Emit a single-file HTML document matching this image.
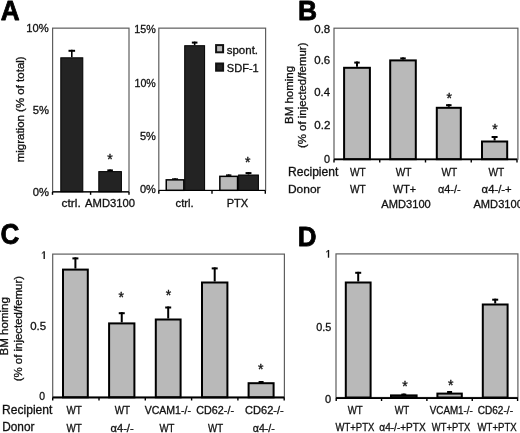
<!DOCTYPE html>
<html><head><meta charset="utf-8"><style>
html,body{margin:0;padding:0;background:#fff;}
svg{display:block;font-family:"Liberation Sans", sans-serif;filter:blur(0.35px);}
</style></head><body>
<svg width="520" height="433" viewBox="0 0 520 433">
<rect width="520" height="433" fill="#fff"/>
<text x="0.65" y="19.7" font-size="28.14" font-weight="bold" fill="#000" stroke="#000" stroke-width="0.8" stroke-linejoin="round" textLength="18.86" lengthAdjust="spacingAndGlyphs">A</text>
<rect x="52.6" y="28.15" width="76.4" height="163.55" fill="none" stroke="#5e5e5e" stroke-width="1.2"/>
<rect x="158.8" y="28.15" width="106.8" height="162.15" fill="none" stroke="#5e5e5e" stroke-width="1.2"/>
<line x1="71.8" y1="57.3" x2="71.8" y2="49.8" stroke="#000" stroke-width="1.6"/>
<line x1="68.5" y1="50.8" x2="75.1" y2="50.8" stroke="#000" stroke-width="2"/>
<rect x="60.8" y="57.8" width="22" height="133.9" fill="#232323" stroke="#000" stroke-width="1"/>
<line x1="110.1" y1="171.1" x2="110.1" y2="169.4" stroke="#000" stroke-width="1.6"/>
<line x1="107.3" y1="170.4" x2="112.9" y2="170.4" stroke="#000" stroke-width="2"/>
<rect x="98.8" y="171.6" width="22.6" height="20.1" fill="#232323" stroke="#000" stroke-width="1"/>
<text x="107.27" y="164.21" font-size="14" fill="#111" stroke="#111" stroke-width="0.35">*</text>
<line x1="52.5" y1="191.9" x2="129" y2="191.9" stroke="#000" stroke-width="1.2"/>
<line x1="52.5" y1="191.9" x2="52.5" y2="194.8" stroke="#000" stroke-width="1.4"/>
<line x1="90.6" y1="191.9" x2="90.6" y2="194.8" stroke="#000" stroke-width="1.4"/>
<line x1="129" y1="191.9" x2="129" y2="194.8" stroke="#000" stroke-width="1.4"/>
<line x1="175.05" y1="179.1" x2="175.05" y2="178.3" stroke="#000" stroke-width="1.5"/>
<line x1="172.05" y1="179.05" x2="178.05" y2="179.05" stroke="#000" stroke-width="1.5"/>
<rect x="166.25" y="179.85" width="17.6" height="10.45" fill="#b9b9b9" stroke="#000" stroke-width="1.5"/>
<line x1="194.65" y1="45.2" x2="194.65" y2="41.6" stroke="#000" stroke-width="1.6"/>
<line x1="191.85" y1="42.6" x2="197.45" y2="42.6" stroke="#000" stroke-width="2"/>
<rect x="184.7" y="45.7" width="19.9" height="144.6" fill="#232323" stroke="#000" stroke-width="1"/>
<line x1="228.7" y1="175.6" x2="228.7" y2="174.4" stroke="#000" stroke-width="1.5"/>
<line x1="226" y1="175.15" x2="231.4" y2="175.15" stroke="#000" stroke-width="1.5"/>
<rect x="219.85" y="176.35" width="17.7" height="13.95" fill="#b9b9b9" stroke="#000" stroke-width="1.5"/>
<line x1="248.5" y1="174.5" x2="248.5" y2="172.1" stroke="#000" stroke-width="1.6"/>
<line x1="245.55" y1="173.1" x2="251.45" y2="173.1" stroke="#000" stroke-width="2"/>
<rect x="238.6" y="175" width="19.8" height="15.3" fill="#232323" stroke="#000" stroke-width="1"/>
<text x="245.07" y="167.01" font-size="14" fill="#111" stroke="#111" stroke-width="0.35">*</text>
<line x1="158.8" y1="190.5" x2="265.3" y2="190.5" stroke="#000" stroke-width="1.2"/>
<line x1="158.8" y1="190.5" x2="158.8" y2="193.8" stroke="#000" stroke-width="1.4"/>
<line x1="212" y1="190.5" x2="212" y2="193.8" stroke="#000" stroke-width="1.4"/>
<line x1="265.3" y1="190.5" x2="265.3" y2="193.8" stroke="#000" stroke-width="1.4"/>
<rect x="216.1" y="45.1" width="7" height="7.2" fill="#b9b9b9" stroke="#111" stroke-width="2"/>
<rect x="216.1" y="63.5" width="7" height="7.2" fill="#232323" stroke="#111" stroke-width="2"/>
<text x="226.71" y="53.5" font-size="11" fill="#111" stroke="#111" stroke-width="0.3" textLength="31.33" lengthAdjust="spacingAndGlyphs">spont.</text>
<text x="226.85" y="71.7" font-size="11" fill="#111" stroke="#111" stroke-width="0.3" textLength="31.89" lengthAdjust="spacingAndGlyphs">SDF-1</text>
<text x="26.31" y="32.3" font-size="11" fill="#111" stroke="#111" stroke-width="0.3" textLength="22.45" lengthAdjust="spacingAndGlyphs">10%</text>
<text x="32.7" y="113.9" font-size="11" fill="#111" stroke="#111" stroke-width="0.3" textLength="16.25" lengthAdjust="spacingAndGlyphs">5%</text>
<text x="32.7" y="196.2" font-size="11" fill="#111" stroke="#111" stroke-width="0.3" textLength="16.25" lengthAdjust="spacingAndGlyphs">0%</text>
<text x="134.34" y="32.6" font-size="11" fill="#111" stroke="#111" stroke-width="0.3" textLength="21.5" lengthAdjust="spacingAndGlyphs">15%</text>
<text x="134.55" y="87.2" font-size="11" fill="#111" stroke="#111" stroke-width="0.3" textLength="21.29" lengthAdjust="spacingAndGlyphs">10%</text>
<text x="139.91" y="140" font-size="11" fill="#111" stroke="#111" stroke-width="0.3" textLength="15.93" lengthAdjust="spacingAndGlyphs">5%</text>
<text x="139.91" y="193.2" font-size="11" fill="#111" stroke="#111" stroke-width="0.3" textLength="15.93" lengthAdjust="spacingAndGlyphs">0%</text>
<text x="61.57" y="207" font-size="11" fill="#111" stroke="#111" stroke-width="0.3" textLength="19.16" lengthAdjust="spacingAndGlyphs">ctrl.</text>
<text x="85.05" y="207" font-size="11" fill="#111" stroke="#111" stroke-width="0.3" textLength="50.02" lengthAdjust="spacingAndGlyphs">AMD3100</text>
<text x="175.5" y="207" font-size="11" fill="#111" stroke="#111" stroke-width="0.3" textLength="18.18" lengthAdjust="spacingAndGlyphs">ctrl.</text>
<text x="226.66" y="207" font-size="11" fill="#111" stroke="#111" stroke-width="0.3" textLength="21.61" lengthAdjust="spacingAndGlyphs">PTX</text>
<text transform="translate(24,162.3) rotate(-90)" x="0" y="0" font-size="11" fill="#111" stroke="#111" stroke-width="0.3" textLength="105.94" lengthAdjust="spacingAndGlyphs">migration (% of total)</text>
<text x="298.08" y="20" font-size="27.64" font-weight="bold" fill="#000" stroke="#000" stroke-width="0.8" stroke-linejoin="round" textLength="19.06" lengthAdjust="spacingAndGlyphs">B</text>
<rect x="334" y="28.2" width="183.9" height="131" fill="none" stroke="#5e5e5e" stroke-width="1.2"/>
<line x1="357" y1="66.8" x2="357" y2="61.6" stroke="#000" stroke-width="2"/>
<line x1="354.25" y1="62.6" x2="359.75" y2="62.6" stroke="#000" stroke-width="2"/>
<rect x="344.1" y="67.8" width="25.8" height="91.4" fill="#b9b9b9" stroke="#000" stroke-width="2"/>
<line x1="403" y1="59.4" x2="403" y2="57.4" stroke="#000" stroke-width="2"/>
<line x1="400.25" y1="58.4" x2="405.75" y2="58.4" stroke="#000" stroke-width="2"/>
<rect x="390.2" y="60.4" width="25.6" height="98.8" fill="#b9b9b9" stroke="#000" stroke-width="2"/>
<line x1="448.8" y1="106.8" x2="448.8" y2="104.2" stroke="#000" stroke-width="2"/>
<line x1="446.05" y1="105.2" x2="451.55" y2="105.2" stroke="#000" stroke-width="2"/>
<rect x="436.8" y="107.8" width="24" height="51.4" fill="#b9b9b9" stroke="#000" stroke-width="2"/>
<line x1="494.6" y1="140.5" x2="494.6" y2="136" stroke="#000" stroke-width="2"/>
<line x1="491.6" y1="137" x2="497.6" y2="137" stroke="#000" stroke-width="2"/>
<rect x="482" y="141.5" width="25.2" height="17.7" fill="#b9b9b9" stroke="#000" stroke-width="2"/>
<text x="446.47" y="102.51" font-size="14" fill="#111" stroke="#111" stroke-width="0.35">*</text>
<text x="492.37" y="134.41" font-size="14" fill="#111" stroke="#111" stroke-width="0.35">*</text>
<line x1="334" y1="159.4" x2="517" y2="159.4" stroke="#000" stroke-width="1.8"/>
<line x1="334" y1="159.4" x2="334" y2="162.5" stroke="#000" stroke-width="1.4"/>
<line x1="379.75" y1="159.4" x2="379.75" y2="162.5" stroke="#000" stroke-width="1.4"/>
<line x1="425.5" y1="159.4" x2="425.5" y2="162.5" stroke="#000" stroke-width="1.4"/>
<line x1="471.25" y1="159.4" x2="471.25" y2="162.5" stroke="#000" stroke-width="1.4"/>
<line x1="517" y1="159.4" x2="517" y2="162.5" stroke="#000" stroke-width="1.4"/>
<text x="314.29" y="33.2" font-size="11" fill="#111" stroke="#111" stroke-width="0.3" textLength="15.92" lengthAdjust="spacingAndGlyphs">0.8</text>
<text x="314.29" y="63.6" font-size="11" fill="#111" stroke="#111" stroke-width="0.3" textLength="15.92" lengthAdjust="spacingAndGlyphs">0.6</text>
<text x="314.3" y="95.5" font-size="11" fill="#111" stroke="#111" stroke-width="0.3" textLength="15.8" lengthAdjust="spacingAndGlyphs">0.4</text>
<text x="314.29" y="128.5" font-size="11" fill="#111" stroke="#111" stroke-width="0.3" textLength="16.04" lengthAdjust="spacingAndGlyphs">0.2</text>
<text x="323.92" y="163" font-size="11" fill="#111" stroke="#111" stroke-width="0.3" textLength="6.03" lengthAdjust="spacingAndGlyphs">0</text>
<text transform="translate(292.5,123.97) rotate(-90)" x="0" y="0" font-size="11" fill="#111" stroke="#111" stroke-width="0.3" textLength="58.1" lengthAdjust="spacingAndGlyphs">BM homing</text>
<text transform="translate(306.2,148.04) rotate(-90)" x="0" y="0" font-size="11" fill="#111" stroke="#111" stroke-width="0.3" textLength="105.48" lengthAdjust="spacingAndGlyphs">(% of injected/femur)</text>
<text x="287.98" y="175.5" font-size="12" fill="#111" stroke="#111" stroke-width="0.3" textLength="50.38" lengthAdjust="spacingAndGlyphs">Recipient</text>
<text x="287.99" y="192.7" font-size="11.5" fill="#111" stroke="#111" stroke-width="0.3" textLength="32.58" lengthAdjust="spacingAndGlyphs">Donor</text>
<text x="349.9" y="175.7" font-size="11.8" fill="#111" stroke="#111" stroke-width="0.3" textLength="15.75" lengthAdjust="spacingAndGlyphs">WT</text>
<text x="395.7" y="175.7" font-size="11.8" fill="#111" stroke="#111" stroke-width="0.3" textLength="15.75" lengthAdjust="spacingAndGlyphs">WT</text>
<text x="441.5" y="175.7" font-size="11.8" fill="#111" stroke="#111" stroke-width="0.3" textLength="15.75" lengthAdjust="spacingAndGlyphs">WT</text>
<text x="488.5" y="175.7" font-size="11.8" fill="#111" stroke="#111" stroke-width="0.3" textLength="15.75" lengthAdjust="spacingAndGlyphs">WT</text>
<text x="349.9" y="193.2" font-size="11" fill="#111" stroke="#111" stroke-width="0.3" textLength="15.75" lengthAdjust="spacingAndGlyphs">WT</text>
<text x="393.1" y="193.2" font-size="11" fill="#111" stroke="#111" stroke-width="0.3" textLength="22.98" lengthAdjust="spacingAndGlyphs">WT+</text>
<text x="438.01" y="193.2" font-size="11" fill="#111" stroke="#111" stroke-width="0.3" textLength="22.61" lengthAdjust="spacingAndGlyphs">α4-/-</text>
<text x="481.6" y="193.2" font-size="11" fill="#111" stroke="#111" stroke-width="0.3" textLength="30.09" lengthAdjust="spacingAndGlyphs">α4-/-+</text>
<text x="381.35" y="208" font-size="11" fill="#111" stroke="#111" stroke-width="0.3" textLength="49.41" lengthAdjust="spacingAndGlyphs">AMD3100</text>
<text x="473.45" y="208" font-size="11" fill="#111" stroke="#111" stroke-width="0.3" textLength="49.41" lengthAdjust="spacingAndGlyphs">AMD3100</text>
<text x="0.56" y="244.2" font-size="28.64" font-weight="bold" fill="#000" stroke="#000" stroke-width="0.8" stroke-linejoin="round" textLength="18.85" lengthAdjust="spacingAndGlyphs">C</text>
<rect x="52.7" y="254.1" width="231.7" height="143.2" fill="none" stroke="#5e5e5e" stroke-width="1.2"/>
<line x1="75.4" y1="268.6" x2="75.4" y2="257.4" stroke="#000" stroke-width="2"/>
<line x1="72.4" y1="258.4" x2="78.4" y2="258.4" stroke="#000" stroke-width="2"/>
<rect x="63" y="269.6" width="24.8" height="127.7" fill="#b9b9b9" stroke="#000" stroke-width="2"/>
<line x1="121.75" y1="322.4" x2="121.75" y2="312.2" stroke="#000" stroke-width="2"/>
<line x1="118.75" y1="313.2" x2="124.75" y2="313.2" stroke="#000" stroke-width="2"/>
<rect x="109.1" y="323.4" width="25.3" height="73.9" fill="#b9b9b9" stroke="#000" stroke-width="2"/>
<line x1="168.2" y1="318.5" x2="168.2" y2="306.5" stroke="#000" stroke-width="2"/>
<line x1="165.2" y1="307.5" x2="171.2" y2="307.5" stroke="#000" stroke-width="2"/>
<rect x="155.8" y="319.5" width="24.8" height="77.8" fill="#b9b9b9" stroke="#000" stroke-width="2"/>
<line x1="214.7" y1="281.5" x2="214.7" y2="267.4" stroke="#000" stroke-width="2"/>
<line x1="211.7" y1="268.4" x2="217.7" y2="268.4" stroke="#000" stroke-width="2"/>
<rect x="202" y="282.5" width="25.4" height="114.8" fill="#b9b9b9" stroke="#000" stroke-width="2"/>
<line x1="261.1" y1="382.2" x2="261.1" y2="381" stroke="#000" stroke-width="2"/>
<line x1="258.6" y1="382" x2="263.6" y2="382" stroke="#000" stroke-width="2"/>
<rect x="248.6" y="383.2" width="25" height="14.1" fill="#b9b9b9" stroke="#000" stroke-width="2"/>
<text x="118.47" y="301.71" font-size="14" fill="#111" stroke="#111" stroke-width="0.35">*</text>
<text x="165.67" y="299.81" font-size="14" fill="#111" stroke="#111" stroke-width="0.35">*</text>
<text x="258.07" y="374.41" font-size="14" fill="#111" stroke="#111" stroke-width="0.35">*</text>
<line x1="52.7" y1="397.5" x2="284.2" y2="397.5" stroke="#000" stroke-width="1.8"/>
<line x1="52.7" y1="397.5" x2="52.7" y2="400.5" stroke="#000" stroke-width="1.4"/>
<line x1="99" y1="397.5" x2="99" y2="400.5" stroke="#000" stroke-width="1.4"/>
<line x1="145.3" y1="397.5" x2="145.3" y2="400.5" stroke="#000" stroke-width="1.4"/>
<line x1="191.6" y1="397.5" x2="191.6" y2="400.5" stroke="#000" stroke-width="1.4"/>
<line x1="237.9" y1="397.5" x2="237.9" y2="400.5" stroke="#000" stroke-width="1.4"/>
<line x1="284.2" y1="397.5" x2="284.2" y2="400.5" stroke="#000" stroke-width="1.4"/>
<path d="M41.8,253.5 L43.9,251.9" stroke="#111" stroke-width="1.0" fill="none"/>
<path d="M44.2,251.3 L44.2,259" stroke="#111" stroke-width="1.35" fill="none"/>
<text x="30.19" y="330" font-size="11" fill="#111" stroke="#111" stroke-width="0.3" textLength="15.92" lengthAdjust="spacingAndGlyphs">0.5</text>
<text x="39.33" y="399.6" font-size="11" fill="#111" stroke="#111" stroke-width="0.3" textLength="5.79" lengthAdjust="spacingAndGlyphs">0</text>
<text transform="translate(8.2,355.47) rotate(-90)" x="0" y="0" font-size="11" fill="#111" stroke="#111" stroke-width="0.3" textLength="58.41" lengthAdjust="spacingAndGlyphs">BM homing</text>
<text transform="translate(22.4,381.34) rotate(-90)" x="0" y="0" font-size="11" fill="#111" stroke="#111" stroke-width="0.3" textLength="105.38" lengthAdjust="spacingAndGlyphs">(% of injected/femur)</text>
<text x="2.09" y="413.6" font-size="12.2" fill="#111" stroke="#111" stroke-width="0.3" textLength="50.27" lengthAdjust="spacingAndGlyphs">Recipient</text>
<text x="2.2" y="431.3" font-size="12" fill="#111" stroke="#111" stroke-width="0.3" textLength="32.27" lengthAdjust="spacingAndGlyphs">Donor</text>
<text x="66.4" y="414" font-size="10.5" fill="#111" stroke="#111" stroke-width="0.3" textLength="15.34" lengthAdjust="spacingAndGlyphs">WT</text>
<text x="114.8" y="414" font-size="10.5" fill="#111" stroke="#111" stroke-width="0.3" textLength="15.34" lengthAdjust="spacingAndGlyphs">WT</text>
<text x="144.7" y="414" font-size="10.5" fill="#111" stroke="#111" stroke-width="0.3" textLength="46.22" lengthAdjust="spacingAndGlyphs">VCAM1-/-</text>
<text x="196.31" y="414" font-size="10.5" fill="#111" stroke="#111" stroke-width="0.3" textLength="37.68" lengthAdjust="spacingAndGlyphs">CD62-/-</text>
<text x="245.1" y="414" font-size="10.5" fill="#111" stroke="#111" stroke-width="0.3" textLength="38.7" lengthAdjust="spacingAndGlyphs">CD62-/-</text>
<text x="66.4" y="432" font-size="10.5" fill="#111" stroke="#111" stroke-width="0.3" textLength="15.34" lengthAdjust="spacingAndGlyphs">WT</text>
<text x="110.55" y="432" font-size="10.5" fill="#111" stroke="#111" stroke-width="0.3" textLength="23.13" lengthAdjust="spacingAndGlyphs">α4-/-</text>
<text x="159.4" y="432" font-size="10.5" fill="#111" stroke="#111" stroke-width="0.3" textLength="14.94" lengthAdjust="spacingAndGlyphs">WT</text>
<text x="208.05" y="432" font-size="10.5" fill="#111" stroke="#111" stroke-width="0.3" textLength="15.04" lengthAdjust="spacingAndGlyphs">WT</text>
<text x="252.77" y="432" font-size="10.5" fill="#111" stroke="#111" stroke-width="0.3" textLength="22.08" lengthAdjust="spacingAndGlyphs">α4-/-</text>
<text x="297.71" y="245.6" font-size="28.14" font-weight="bold" fill="#000" stroke="#000" stroke-width="0.8" stroke-linejoin="round" textLength="18.79" lengthAdjust="spacingAndGlyphs">D</text>
<rect x="336" y="253.9" width="181.9" height="143.6" fill="none" stroke="#5e5e5e" stroke-width="1.2"/>
<line x1="358.2" y1="281.5" x2="358.2" y2="271.8" stroke="#000" stroke-width="2"/>
<line x1="355.2" y1="272.8" x2="361.2" y2="272.8" stroke="#000" stroke-width="2"/>
<rect x="345.8" y="282.5" width="24.8" height="115" fill="#b9b9b9" stroke="#000" stroke-width="2"/>
<line x1="403.8" y1="394.4" x2="403.8" y2="393.6" stroke="#000" stroke-width="2"/>
<line x1="401.3" y1="394.6" x2="406.3" y2="394.6" stroke="#000" stroke-width="2"/>
<rect x="391" y="395.4" width="25.6" height="2.1" fill="#b9b9b9" stroke="#000" stroke-width="2"/>
<line x1="449.6" y1="392.6" x2="449.6" y2="391" stroke="#000" stroke-width="2"/>
<line x1="447.1" y1="392" x2="452.1" y2="392" stroke="#000" stroke-width="2"/>
<rect x="437.4" y="393.6" width="24.4" height="3.9" fill="#b9b9b9" stroke="#000" stroke-width="2"/>
<line x1="495.2" y1="303.5" x2="495.2" y2="298.7" stroke="#000" stroke-width="2"/>
<line x1="492.2" y1="299.7" x2="498.2" y2="299.7" stroke="#000" stroke-width="2"/>
<rect x="482.8" y="304.5" width="24.8" height="93" fill="#b9b9b9" stroke="#000" stroke-width="2"/>
<text x="402.17" y="391.21" font-size="14" fill="#111" stroke="#111" stroke-width="0.35">*</text>
<text x="448.07" y="389.91" font-size="14" fill="#111" stroke="#111" stroke-width="0.35">*</text>
<line x1="336" y1="398.1" x2="517.9" y2="398.1" stroke="#000" stroke-width="1.6"/>
<line x1="336.2" y1="398.1" x2="336.2" y2="401" stroke="#000" stroke-width="1.4"/>
<line x1="381.55" y1="398.1" x2="381.55" y2="401" stroke="#000" stroke-width="1.4"/>
<line x1="426.9" y1="398.1" x2="426.9" y2="401" stroke="#000" stroke-width="1.4"/>
<line x1="472.25" y1="398.1" x2="472.25" y2="401" stroke="#000" stroke-width="1.4"/>
<line x1="517.6" y1="398.1" x2="517.6" y2="401" stroke="#000" stroke-width="1.4"/>
<path d="M326.1,252.2 L328.2,250.6" stroke="#111" stroke-width="1.0" fill="none"/>
<path d="M328.5,250 L328.5,257.7" stroke="#111" stroke-width="1.35" fill="none"/>
<text x="316.22" y="331" font-size="11" fill="#111" stroke="#111" stroke-width="0.3" textLength="15.07" lengthAdjust="spacingAndGlyphs">0.5</text>
<text x="325.01" y="403.3" font-size="11" fill="#111" stroke="#111" stroke-width="0.3" textLength="6.14" lengthAdjust="spacingAndGlyphs">0</text>
<text x="347.8" y="413.8" font-size="10.5" fill="#111" stroke="#111" stroke-width="0.3" textLength="14.94" lengthAdjust="spacingAndGlyphs">WT</text>
<text x="394.85" y="413.8" font-size="10.5" fill="#111" stroke="#111" stroke-width="0.3" textLength="14.43" lengthAdjust="spacingAndGlyphs">WT</text>
<text x="429.75" y="413.8" font-size="10.5" fill="#111" stroke="#111" stroke-width="0.3" textLength="43.08" lengthAdjust="spacingAndGlyphs">VCAM1-/-</text>
<text x="477.7" y="413.8" font-size="10.5" fill="#111" stroke="#111" stroke-width="0.3" textLength="35.31" lengthAdjust="spacingAndGlyphs">CD62-/-</text>
<text x="335.5" y="430.7" font-size="10.5" fill="#111" stroke="#111" stroke-width="0.3" textLength="38.77" lengthAdjust="spacingAndGlyphs">WT+PTX</text>
<text x="379.35" y="430.7" font-size="10.5" fill="#111" stroke="#111" stroke-width="0.3" textLength="46.32" lengthAdjust="spacingAndGlyphs">α4-/-+PTX</text>
<text x="431.8" y="430.7" font-size="10.5" fill="#111" stroke="#111" stroke-width="0.3" textLength="38.37" lengthAdjust="spacingAndGlyphs">WT+PTX</text>
<text x="477.5" y="430.7" font-size="10.5" fill="#111" stroke="#111" stroke-width="0.3" textLength="39.17" lengthAdjust="spacingAndGlyphs">WT+PTX</text>
</svg>
</body></html>
